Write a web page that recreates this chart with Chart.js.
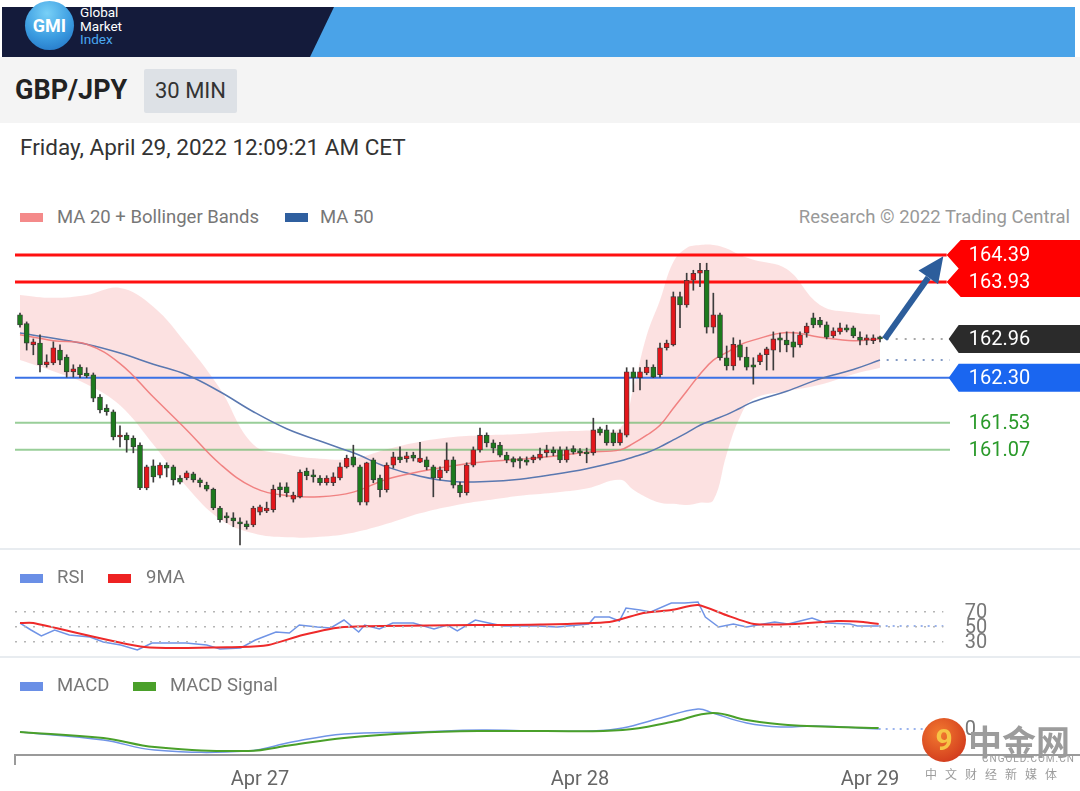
<!DOCTYPE html>
<html>
<head>
<meta charset="utf-8">
<script src="https://cdn.jsdelivr.net/npm/chart.js@4.4.1/dist/chart.umd.min.js"></script>
<style>
  body { margin: 0; width: 1080px; height: 791px; position: relative; overflow: hidden; background: #fff; font-family: Roboto, "Liberation Sans", Arial, sans-serif; }
  .abs { position: absolute; }
  #bar { left: 2px; top: 7px; width: 1073px; height: 50px; background: #4aa3e8; }
  #barDark { left: 2px; top: 7px; width: 332px; height: 50px; background: #141b3b; clip-path: polygon(0 0, 100% 0, 308px 100%, 0 100%); }
  #logo { left: 25px; top: 1px; width: 49px; height: 49px; border-radius: 50%; background: radial-gradient(circle at 45% 25%, #78d0f7 0%, #3a9be0 55%, #1e6cbf 100%); color: #fff; font-weight: bold; font-size: 18px; line-height: 49px; text-align: center; }
  #logoText { left: 80px; top: 6px; font-size: 13.5px; line-height: 13.5px; color: #fff; }
  #logoText span { color: #4aa8f0; }
  #band { left: 0; top: 57px; width: 1080px; height: 66px; background: #f4f4f4; }
  #pair { left: 15px; top: 74px; font-size: 27px; font-weight: bold; color: #222; }
  #tf { left: 144px; top: 69px; width: 93px; height: 44px; background: #dde1e6; border-radius: 2px; font-size: 22px; color: #333; line-height: 44px; text-align: center; }
  #date { left: 20px; top: 134px; font-size: 22.5px; color: #333; }
  .leg { font-size: 18.5px; color: #777; }
  .sw { width: 23px; height: 9px; }
  .sep { left: 0; width: 1080px; height: 2px; background: #e8ecf0; }
  canvas { position: absolute; left: 0; }
  #wmCircle { left: 922px; top: 718px; width: 44px; height: 44px; border-radius: 50%; background: radial-gradient(circle at 40% 35%, #f27a30, #c92a18); color: #f6c445; font-weight: bold; font-size: 30px; line-height: 44px; text-align: center; z-index: 5; }
  #wmBig { left: 968px; top: 716px; font-family: "Noto Sans CJK SC"; font-weight: bold; font-size: 34px; color: #9c9c9c; z-index: 5; }
  #wmUrl { left: 982px; top: 753px; font-size: 10px; color: #9c9c9c; letter-spacing: 1px; z-index: 5; }
  #wmSub { left: 925px; top: 765px; font-family: "Noto Sans CJK SC"; font-size: 12px; color: #9c9c9c; letter-spacing: 8px; z-index: 5; }
</style>
</head>
<body>
<div id="bar" class="abs"></div>
<div id="barDark" class="abs"></div>
<div id="logo" class="abs">GMI</div>
<div id="logoText" class="abs">Global<br>Market<br><span>Index</span></div>
<div id="band" class="abs"></div>
<div id="pair" class="abs">GBP/JPY</div>
<div id="tf" class="abs">30 MIN</div>
<div id="date" class="abs">Friday, April 29, 2022 12:09:21 AM CET</div>

<div class="abs sw" style="left:20px;top:213px;background:#f48a8a"></div>
<div class="abs leg" style="left:57px;top:206px">MA 20 + Bollinger Bands</div>
<div class="abs sw" style="left:285px;top:213px;background:#2f5f9f"></div>
<div class="abs leg" style="left:320px;top:206px">MA 50</div>
<div class="abs leg" style="right:10px;top:206px;color:#999">Research © 2022 Trading Central</div>

<canvas id="main" width="1080" height="315" style="top:235px"></canvas>
<div class="abs sep" style="top:548px"></div>

<div class="abs sw" style="left:20px;top:574px;background:#6a8fe6"></div>
<div class="abs leg" style="left:57px;top:566px">RSI</div>
<div class="abs sw" style="left:108px;top:574px;background:#ee2222"></div>
<div class="abs leg" style="left:146px;top:566px">9MA</div>
<canvas id="rsi" width="1080" height="107" style="top:550px"></canvas>
<div class="abs sep" style="top:656px"></div>

<div class="abs sw" style="left:20px;top:682px;background:#6a8fe6"></div>
<div class="abs leg" style="left:57px;top:674px">MACD</div>
<div class="abs sw" style="left:133px;top:682px;background:#4aa02a"></div>
<div class="abs leg" style="left:170px;top:674px">MACD Signal</div>
<canvas id="macd" width="1080" height="134" style="top:657px"></canvas>

<div id="wmCircle" class="abs">9</div>
<div id="wmBig" class="abs">中金网</div>
<div id="wmUrl" class="abs">CNGOLD.COM.CN</div>
<div id="wmSub" class="abs">中文财经新媒体</div>

<script>
// 30 min candles, GBP/JPY
const opens = [163.37,163.22,162.86,162.89,162.52,162.55,162.77,162.65,162.40,162.48,162.38,162.35,161.97,161.78,161.72,161.29,161.32,161.27,161.15,160.42,
  160.80,160.64,160.81,160.78,160.59,160.59,160.66,160.56,160.47,160.40,160.08,159.93,159.91,159.84,159.81,159.79,160.01,160.03,160.05,160.44,
  160.44,160.23,160.27,160.71,160.64,160.59,160.51,160.51,160.59,160.78,160.95,160.78,160.18,160.90,160.59,160.39,160.81,160.95,160.92,160.98,
  160.86,160.90,160.78,160.59,160.71,160.90,160.47,160.34,160.81,161.07,161.32,161.19,161.15,160.98,160.92,160.92,160.90,160.90,160.93,161.02,
  161.07,161.07,160.90,161.09,161.03,161.03,161.02,161.43,161.41,161.36,161.19,161.32,162.40,162.30,162.38,162.48,162.35,162.81,162.86,163.68,
  163.54,163.96,164.08,164.13,163.16,163.37,162.64,162.50,162.86,162.65,162.52,162.57,162.69,162.77,162.98,162.94,162.91,162.86,163.06,163.32,
  163.28,163.20,163.01,163.08,163.15,163.15,162.99,162.94,162.93,162.98];
const highs = [163.40,163.25,162.96,163.03,162.69,162.91,162.86,162.69,162.52,162.52,162.47,162.38,162.01,161.84,161.75,161.48,161.36,161.31,161.19,160.81,
  160.90,160.85,160.85,160.81,160.63,160.71,160.69,160.59,160.52,160.42,160.11,160.00,160.00,159.91,159.86,160.11,160.13,160.18,160.47,160.51,
  160.51,160.35,160.73,160.76,160.73,160.63,160.63,160.68,160.85,160.98,161.15,160.81,160.86,160.93,160.64,160.85,161.03,161.12,161.03,161.03,
  161.20,160.95,160.81,160.78,161.19,160.95,160.52,160.85,161.12,161.44,161.36,161.24,161.20,161.03,160.95,160.95,160.95,160.98,161.10,161.15,
  161.12,161.12,161.12,161.14,161.09,161.10,161.61,161.46,161.49,161.41,161.41,162.47,162.47,162.47,162.60,162.52,162.89,162.94,163.76,163.76,
  164.08,164.13,164.25,164.25,163.74,163.40,162.84,162.98,162.94,162.82,162.64,162.72,162.82,163.08,163.06,163.08,163.08,163.08,163.23,163.40,
  163.33,163.25,163.15,163.23,163.20,163.18,163.08,163.03,163.03,163.01];
const lows = [163.16,162.77,162.69,162.40,162.48,162.52,162.52,162.31,162.31,162.30,162.30,161.89,161.70,161.66,161.24,161.12,161.03,161.02,160.39,160.39,
  160.52,160.59,160.61,160.47,160.49,160.56,160.52,160.44,160.37,160.05,159.84,159.83,159.76,159.45,159.72,159.76,159.96,160.00,160.01,160.27,
  160.27,160.18,160.25,160.56,160.52,160.47,160.47,160.46,160.56,160.76,160.78,160.13,160.13,160.51,160.27,160.35,160.76,160.85,160.86,160.88,
  160.85,160.73,160.27,160.56,160.68,160.42,160.27,160.30,160.78,161.03,161.12,161.02,160.95,160.85,160.78,160.76,160.81,160.85,160.90,160.95,
  160.97,160.85,160.86,161.00,160.97,160.85,160.98,161.32,161.15,161.14,161.15,161.29,162.06,162.09,162.35,162.30,162.31,162.77,162.84,163.15,
  163.50,163.79,163.85,163.06,163.06,162.60,162.43,162.43,162.60,162.43,162.19,162.52,162.43,162.43,162.74,162.74,162.65,162.82,162.99,163.15,
  163.16,162.96,162.98,163.04,163.08,162.98,162.86,162.86,162.88,162.91];
const closes = [163.20,162.89,162.91,162.52,162.57,162.81,162.60,162.40,162.45,162.35,162.33,161.95,161.75,161.72,161.29,161.32,161.24,161.12,160.42,160.78,
  160.61,160.81,160.76,160.56,160.52,160.68,160.56,160.51,160.40,160.08,159.88,159.91,159.86,159.81,159.76,160.08,160.10,160.08,160.40,160.39,
  160.34,160.30,160.69,160.63,160.61,160.51,160.59,160.61,160.78,160.93,160.81,160.18,160.85,160.56,160.39,160.81,160.95,160.90,160.97,160.93,
  160.93,160.78,160.59,160.73,160.90,160.47,160.34,160.81,161.07,161.32,161.19,161.10,160.98,160.90,160.86,160.88,160.86,160.95,161.00,161.07,
  161.02,160.90,161.07,161.03,161.02,161.00,161.41,161.36,161.19,161.19,161.36,162.40,162.30,162.40,162.48,162.31,162.81,162.89,163.68,163.54,
  163.96,164.08,164.13,163.16,163.37,162.64,162.50,162.87,162.65,162.48,162.48,162.69,162.79,162.96,162.94,162.86,162.82,163.03,163.18,163.20,
  163.20,162.99,163.10,163.15,163.11,163.01,162.94,162.98,162.98,162.96];

// indicator samples (candle index -> value)
const maIdx = [0,5,10,15,20,25,30,35,40,45,50,55,60,65,70,75,80,85,90,92,94,96,98,100,102,104,106,108,110,115,120,125,129];
const ma20 = [163.03,162.93,162.87,162.54,161.97,161.41,160.83,160.43,160.29,160.27,160.35,160.57,160.70,160.80,160.87,160.91,160.96,161.03,161.07,161.18,
  161.32,161.49,161.78,162.07,162.36,162.60,162.73,162.86,162.94,163.07,162.99,162.93,162.96];
const ma50 = [163.06,162.97,162.87,162.72,162.53,162.35,162.06,161.72,161.43,161.22,161.02,160.78,160.62,160.53,160.53,160.57,160.65,160.75,160.88,160.95,
  161.02,161.12,161.24,161.36,161.49,161.58,161.67,161.78,161.89,162.07,162.28,162.44,162.60];
const bbUpper = [163.71,163.66,163.71,163.83,163.51,162.87,162.11,161.16,160.99,160.92,160.92,161.08,161.21,161.29,161.32,161.34,161.38,161.40,161.44,162.12,
  163.02,163.62,164.27,164.51,164.56,164.56,164.50,164.39,164.31,164.15,163.54,163.41,163.37];
const bbLower = [162.60,162.41,162.19,161.83,161.16,160.44,159.89,159.65,159.58,159.59,159.66,159.81,159.99,160.12,160.21,160.29,160.34,160.41,160.56,160.39,
  160.26,160.17,160.15,160.13,160.17,160.21,161.00,161.63,161.94,162.07,162.18,162.36,162.47];

// levels
const resistLevels = [164.39, 163.93];
const pivotLevel = 162.30;
const supportLevels = [161.53, 161.07];
const lastPrice = 162.96;
const targetPrice = 164.37;

const rsiIdx = [0,1.65,3.2,5.2,7.4,10.5,12.5,15.1,17.6,19.8,21.8,24.9,28,30,33.1,35.3,38.4,40.4,41.9,44.6,46.6,48.6,50.8,51.7,53.9,55.9,59,62.1,64.1,65.6,
  68.3,70.3,72.5,77.6,80.6,85.3,86.2,88.4,89.9,90.9,93,94.6,97.7,99.7,101.7,102.8,104.8,107,109,113.2,115.2,118.8,120.9,124.5,125.6,128.8];
const rsiVal = [54.9,45.6,37.6,45.6,38.9,36.3,29.6,25.6,18.9,28.3,28.3,28.3,25.6,20.3,21.6,32.3,42.9,41.6,52.3,49.6,48.3,58.9,42.9,52.3,46.9,54.9,54.9,46.9,52.3,44.3,
  58.9,54.9,50.9,50.9,49.6,53.6,62.9,62.9,57.6,74.9,72.3,69.6,81.6,81.6,82.9,62.9,49.6,53.6,49.6,56.3,53.6,61.6,54.9,53.6,50.9,50.9];
const rsiMaIdx = [0,2,18.7,33.1,37.3,42.4,48.6,78,88.4,93.5,97.7,101.7,105.9,110.1,116.3,122.5,126.5,128.8];
const rsiMaVal = [54.9,54.9,22.9,22.9,25.6,38.9,49.6,53,56.3,68.3,72.3,78.9,65.6,53.6,53.6,57.6,56.3,53.6];
const rsiLevels = [70, 50, 30];

const macdIdx = [0,12.5,20.2,34.2,40.8,48.6,59,69.4,77.6,85.8,90.4,96.1,101.7,103.9,109,114.1,119.4,128.8];
const macdVal = [-0.03,-0.11,-0.21,-0.22,-0.13,-0.05,-0.03,-0.01,-0.02,-0.02,0.01,0.11,0.20,0.16,0.06,0.02,0.03,0.00];
const signalIdx = [0,12.5,20.2,34.2,40.8,48.6,59,69.4,78,90.4,97.7,103.9,109,115.2,128.8];
const signalVal = [-0.03,-0.09,-0.18,-0.22,-0.16,-0.09,-0.04,-0.02,-0.02,-0.01,0.07,0.16,0.09,0.04,0.01];

const dayTickIdx = [36, 84, 127.5];
const dayTickLabels = ['Apr 27', 'Apr 28', 'Apr 29'];

Chart.defaults.font.family = 'Roboto, "Liberation Sans", Arial, sans-serif';
Chart.defaults.animation = false;
Chart.defaults.plugins.legend.display = false;
Chart.defaults.plugins.tooltip.enabled = false;

const X_MIN = -3, X_MAX = 159;     // index range across the full width
const LINE_START = -0.75, LINE_END = 139.5, EXT_START = 130;

const pts = (idx, vals) => idx.map((v, i) => ({ x: v, y: vals[i] }));
const hline = (y, x0, x1) => [{ x: x0, y: y }, { x: x1, y: y }];

function lineDs(data, color, width, extra) {
  return Object.assign({
    type: 'line', data: data, borderColor: color, borderWidth: width,
    pointRadius: 0, fill: false, tension: 0
  }, extra || {});
}

// ---------- main price chart ----------
const upColor = '#e3161b', downColor = '#1d7a1d';
const bodies = opens.map((o, i) => ({ x: i, y: [o, closes[i]] }));
const wicks = opens.map((o, i) => ({ x: i, y: [lows[i], highs[i]] }));
const bodyColors = opens.map((o, i) => closes[i] > o ? upColor : downColor);

const tagPlugin = {
  id: 'tags',
  afterDatasetsDraw(chart) {
    const { ctx, scales: { x, y } } = chart;
    const tipX = x.getPixelForValue(LINE_END - 0.5);
    const right = chart.width;
    ctx.save();
    ctx.font = '20px Roboto, "Liberation Sans", Arial';
    ctx.textBaseline = 'middle';

    // red double tag
    const r1 = y.getPixelForValue(resistLevels[0]), r2 = y.getPixelForValue(resistLevels[1]);
    ctx.fillStyle = '#ff0000';
    ctx.beginPath();
    ctx.moveTo(tipX + 14, r1 - 15);
    ctx.lineTo(tipX, r1);
    ctx.lineTo(tipX + 12, (r1 + r2) / 2);
    ctx.lineTo(tipX, r2);
    ctx.lineTo(tipX + 14, r2 + 15);
    ctx.lineTo(right, r2 + 15);
    ctx.lineTo(right, r1 - 15);
    ctx.closePath();
    ctx.fill();
    ctx.fillStyle = '#fff';
    ctx.fillText(resistLevels[0].toFixed(2), tipX + 22, r1 + 1);
    ctx.fillText(resistLevels[1].toFixed(2), tipX + 22, r2 + 1);

    const single = (val, color) => {
      const py = y.getPixelForValue(val);
      ctx.fillStyle = color;
      ctx.beginPath();
      ctx.moveTo(tipX + 12, py - 14);
      ctx.lineTo(tipX + 2, py);
      ctx.lineTo(tipX + 12, py + 14);
      ctx.lineTo(right, py + 14);
      ctx.lineTo(right, py - 14);
      ctx.closePath();
      ctx.fill();
      ctx.fillStyle = '#fff';
      ctx.fillText(val.toFixed(2), tipX + 22, py + 1);
    };
    single(lastPrice, '#2b2b2b');
    single(pivotLevel, '#1a66f0');

    ctx.fillStyle = '#2a9a2a';
    supportLevels.forEach(v => ctx.fillText(v.toFixed(2), tipX + 22, y.getPixelForValue(v) + 1));

    // target arrow
    const ax0 = x.getPixelForValue(129.7), ay0 = y.getPixelForValue(lastPrice);
    const ax1 = x.getPixelForValue(138.5), ay1 = y.getPixelForValue(targetPrice);
    const ang = Math.atan2(ay1 - ay0, ax1 - ax0);
    const headLen = 26, headW = 12;
    const bx = ax1 - headLen * Math.cos(ang), by = ay1 - headLen * Math.sin(ang);
    ctx.strokeStyle = '#2c5d9b';
    ctx.lineWidth = 6;
    ctx.beginPath();
    ctx.moveTo(ax0, ay0);
    ctx.lineTo(bx, by);
    ctx.stroke();
    ctx.fillStyle = '#2c5d9b';
    ctx.beginPath();
    ctx.moveTo(ax1, ay1);
    ctx.lineTo(bx + headW * Math.sin(ang), by - headW * Math.cos(ang));
    ctx.lineTo(bx - headW * Math.sin(ang), by + headW * Math.cos(ang));
    ctx.closePath();
    ctx.fill();
    ctx.restore();
  }
};

new Chart(document.getElementById('main'), {
  type: 'bar',
  data: {
    datasets: [
      lineDs(pts(maIdx, bbUpper), 'rgba(0,0,0,0)', 0, { fill: '+1', backgroundColor: 'rgba(250,200,200,0.55)', tension: 0.4, order: 10 }),
      lineDs(pts(maIdx, bbLower), 'rgba(0,0,0,0)', 0, { tension: 0.4, order: 10 }),
      lineDs(hline(resistLevels[0], LINE_START, LINE_END - 0.5), '#ff1010', 3, { order: 6 }),
      lineDs(hline(resistLevels[1], LINE_START, LINE_END - 0.5), '#ff1010', 3, { order: 6 }),
      lineDs(hline(pivotLevel, LINE_START, LINE_END), '#3a72e6', 2, { order: 6 }),
      lineDs(hline(supportLevels[0], LINE_START, LINE_END), 'rgba(110,185,110,0.7)', 2, { order: 6 }),
      lineDs(hline(supportLevels[1], LINE_START, LINE_END), 'rgba(110,185,110,0.7)', 2, { order: 6 }),
      lineDs(hline(lastPrice, EXT_START, LINE_END), '#8a8a8a', 1.5, { borderDash: [2, 7], order: 6 }),
      lineDs(hline(ma50[ma50.length - 1], EXT_START, LINE_END), '#5a78b0', 1.5, { borderDash: [2, 7], order: 6 }),
      lineDs(pts(maIdx, ma20), 'rgba(240,120,120,0.9)', 1.5, { tension: 0.4, order: 4 }),
      lineDs(pts(maIdx, ma50), '#5a78b0', 1.5, { tension: 0.4, order: 4 }),
      { type: 'bar', data: wicks, backgroundColor: '#3c3c3c', barThickness: 1, grouped: false, order: 2 },
      { type: 'bar', data: bodies, backgroundColor: bodyColors, borderColor: '#3a3a3a', borderWidth: 0.8,
        borderSkipped: false, barThickness: 5, minBarLength: 2, grouped: false, order: 1 }
    ]
  },
  options: {
    responsive: false,
    devicePixelRatio: 1,
    layout: { padding: 0 },
    scales: {
      x: { type: 'linear', min: X_MIN, max: X_MAX, offset: false, display: false },
      y: { min: 159.364, max: 164.731, display: false }
    }
  },
  plugins: [tagPlugin]
});

// ---------- RSI ----------
const rsiLabels = {
  id: 'rsiLabels',
  afterDatasetsDraw(chart) {
    const { ctx, scales: { x, y } } = chart;
    ctx.save();
    ctx.font = '20px Roboto, "Liberation Sans", Arial';
    ctx.textBaseline = 'middle';
    ctx.fillStyle = '#777';
    const lx = x.getPixelForValue(141.7);
    rsiLevels.forEach(v => {
      const py = y.getPixelForValue(v);
      ctx.fillText(String(v), lx, py + 1);
    });
    ctx.restore();
  }
};

new Chart(document.getElementById('rsi'), {
  type: 'line',
  data: {
    datasets: [
      ...rsiLevels.map(v => lineDs(hline(v, LINE_START, LINE_END - 1), '#b5b5b5', 1.5, { borderDash: [2, 7] })),
      lineDs(hline(rsiVal[rsiVal.length - 1], rsiIdx[rsiIdx.length - 1], LINE_END - 1), '#7a9ae8', 1.5, { borderDash: [2, 5] }),
      lineDs(pts(rsiMaIdx, rsiMaVal), '#ee2a2a', 2, { tension: 0.2 }),
      lineDs(pts(rsiIdx, rsiVal), '#7094e6', 1.5)
    ]
  },
  options: {
    responsive: false,
    devicePixelRatio: 1,
    layout: { padding: 0 },
    scales: {
      x: { type: 'linear', min: X_MIN, max: X_MAX, display: false },
      y: { min: 9.6, max: 152.3, display: false }
    }
  },
  plugins: [rsiLabels]
});

// ---------- MACD ----------
const macdDecor = {
  id: 'macdDecor',
  afterDatasetsDraw(chart) {
    const { ctx, chartArea, scales: { x, y } } = chart;
    ctx.save();
    ctx.font = '20px Roboto, "Liberation Sans", Arial';
    ctx.textBaseline = 'middle';
    ctx.fillStyle = '#777';
    ctx.fillText('0', x.getPixelForValue(141.7), y.getPixelForValue(0) + 1);
    // axis line with left tick
    const x0 = x.getPixelForValue(LINE_START);
    ctx.strokeStyle = '#9a9a9a';
    ctx.lineWidth = 2;
    ctx.beginPath();
    ctx.moveTo(x0, chartArea.bottom + 10);
    ctx.lineTo(x0, chartArea.bottom);
    ctx.lineTo(chartArea.right, chartArea.bottom);
    ctx.stroke();
    ctx.restore();
  }
};

new Chart(document.getElementById('macd'), {
  type: 'line',
  data: {
    datasets: [
      lineDs(hline(macdVal[macdVal.length - 1], macdIdx[macdIdx.length - 1], LINE_END - 1), '#7a9ae8', 1.5, { borderDash: [2, 5] }),
      lineDs(pts(signalIdx, signalVal), '#4aa02a', 2, { tension: 0.4 }),
      lineDs(pts(macdIdx, macdVal), '#7094e6', 1.5, { tension: 0.4 })
    ]
  },
  options: {
    responsive: false,
    devicePixelRatio: 1,
    layout: { padding: 0 },
    scales: {
      x: {
        type: 'linear', min: X_MIN, max: X_MAX,
        grid: { display: false, drawTicks: false },
        border: { display: false },
        afterBuildTicks: axis => { axis.ticks = dayTickIdx.map(v => ({ value: v })); },
        afterFit: axis => { axis.height = 36; },
        ticks: {
          autoSkip: false, maxRotation: 0, padding: 13, color: '#666', font: { size: 20 },
          callback: v => dayTickLabels[dayTickIdx.indexOf(v)]
        }
      },
      y: { min: -0.26, max: 0.72, display: false }
    }
  },
  plugins: [macdDecor]
});
</script>
</body>
</html>
